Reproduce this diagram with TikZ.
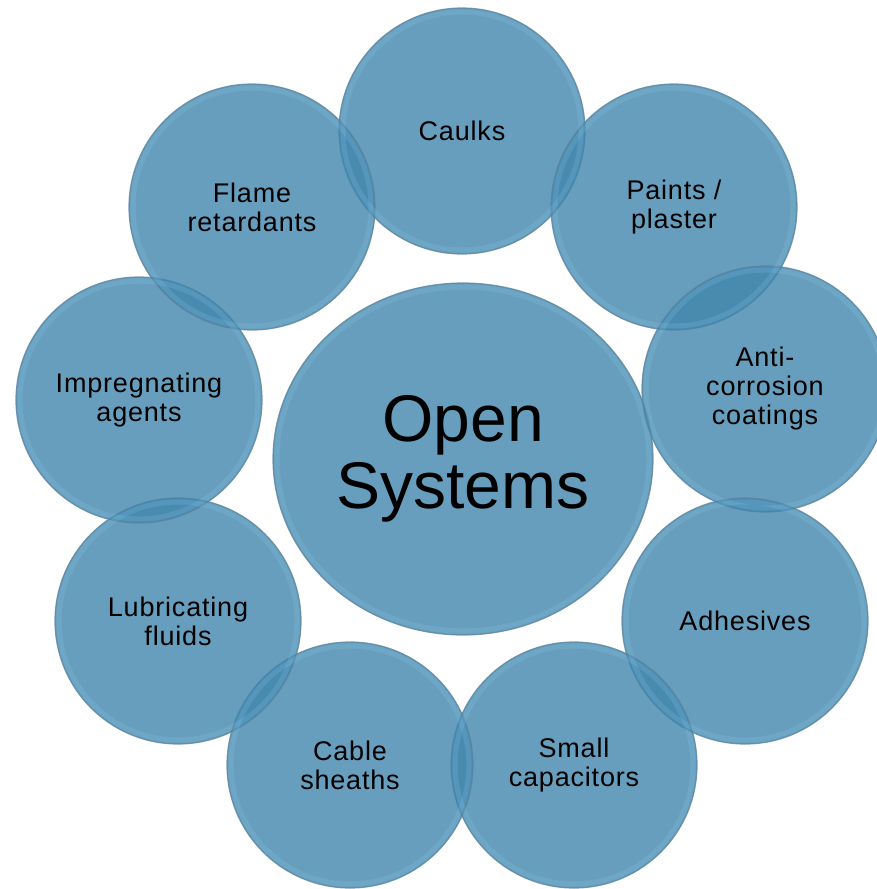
\documentclass[tikz,border=0pt]{standalone}
\usepackage{fontspec}
\setmainfont{Liberation Sans}
\newfontfamily\labelfont{Liberation Sans}[LetterSpace=3]
\usetikzlibrary{shapes.geometric}
\definecolor{bubblefill}{RGB}{66,134,172}
\definecolor{bubbleedge}{RGB}{92,132,160}
\definecolor{bubblerim}{RGB}{140,205,240}
\begin{document}
\begin{tikzpicture}[x=1pt,y=-1pt,
  bubble/.style={circle, minimum size=246pt, inner sep=0pt,
    fill=bubblefill, fill opacity=0.8, text opacity=1,
    draw=bubbleedge, draw opacity=0.8, line width=1.2pt,
    align=center, font=\labelfont\fontsize{27}{29}\selectfont},
  hub/.style={ellipse, minimum width=380pt, minimum height=352pt, inner sep=0pt,
    fill=bubblefill, fill opacity=0.8, text opacity=1,
    draw=bubbleedge, draw opacity=0.8, line width=1.2pt,
    align=center, font=\fontsize{66}{67}\selectfont},
  rim/.style={draw=bubblerim, draw opacity=0.18, line width=5pt}
]
\useasboundingbox (0,0) rectangle (877,889);

% central topic
\node[hub] (hub) at (463,459) {Open\\Systems};
\draw[rim] (hub.center) ellipse [x radius=186, y radius=172];

% application bubbles around the hub
\node[bubble] (caulks)  at (462,131) {Caulks};
\node[bubble] (paints)  at (674,207) {Paints /\\plaster};
\node[bubble] (anti)    at (765,389) {Anti-\\corrosion\\coatings};
\node[bubble] (adhes)   at (745,621) {Adhesives};
\node[bubble] (caps)    at (574,765) {Small\\capacitors};
\node[bubble] (cable)   at (350,765) {Cable\\sheaths};
\node[bubble] (lubric)  at (178,621) {Lubricating\\fluids};
\node[bubble] (impreg)  at (139,400) {Impregnating\\agents};
\node[bubble] (flame)   at (252,207) {Flame\\retardants};

% soft inner highlight along each bubble edge
\foreach \b in {caulks,paints,anti,adhes,caps,cable,lubric,impreg,flame}
  \draw[rim] (\b.center) circle (119);
\end{tikzpicture}
\end{document}
